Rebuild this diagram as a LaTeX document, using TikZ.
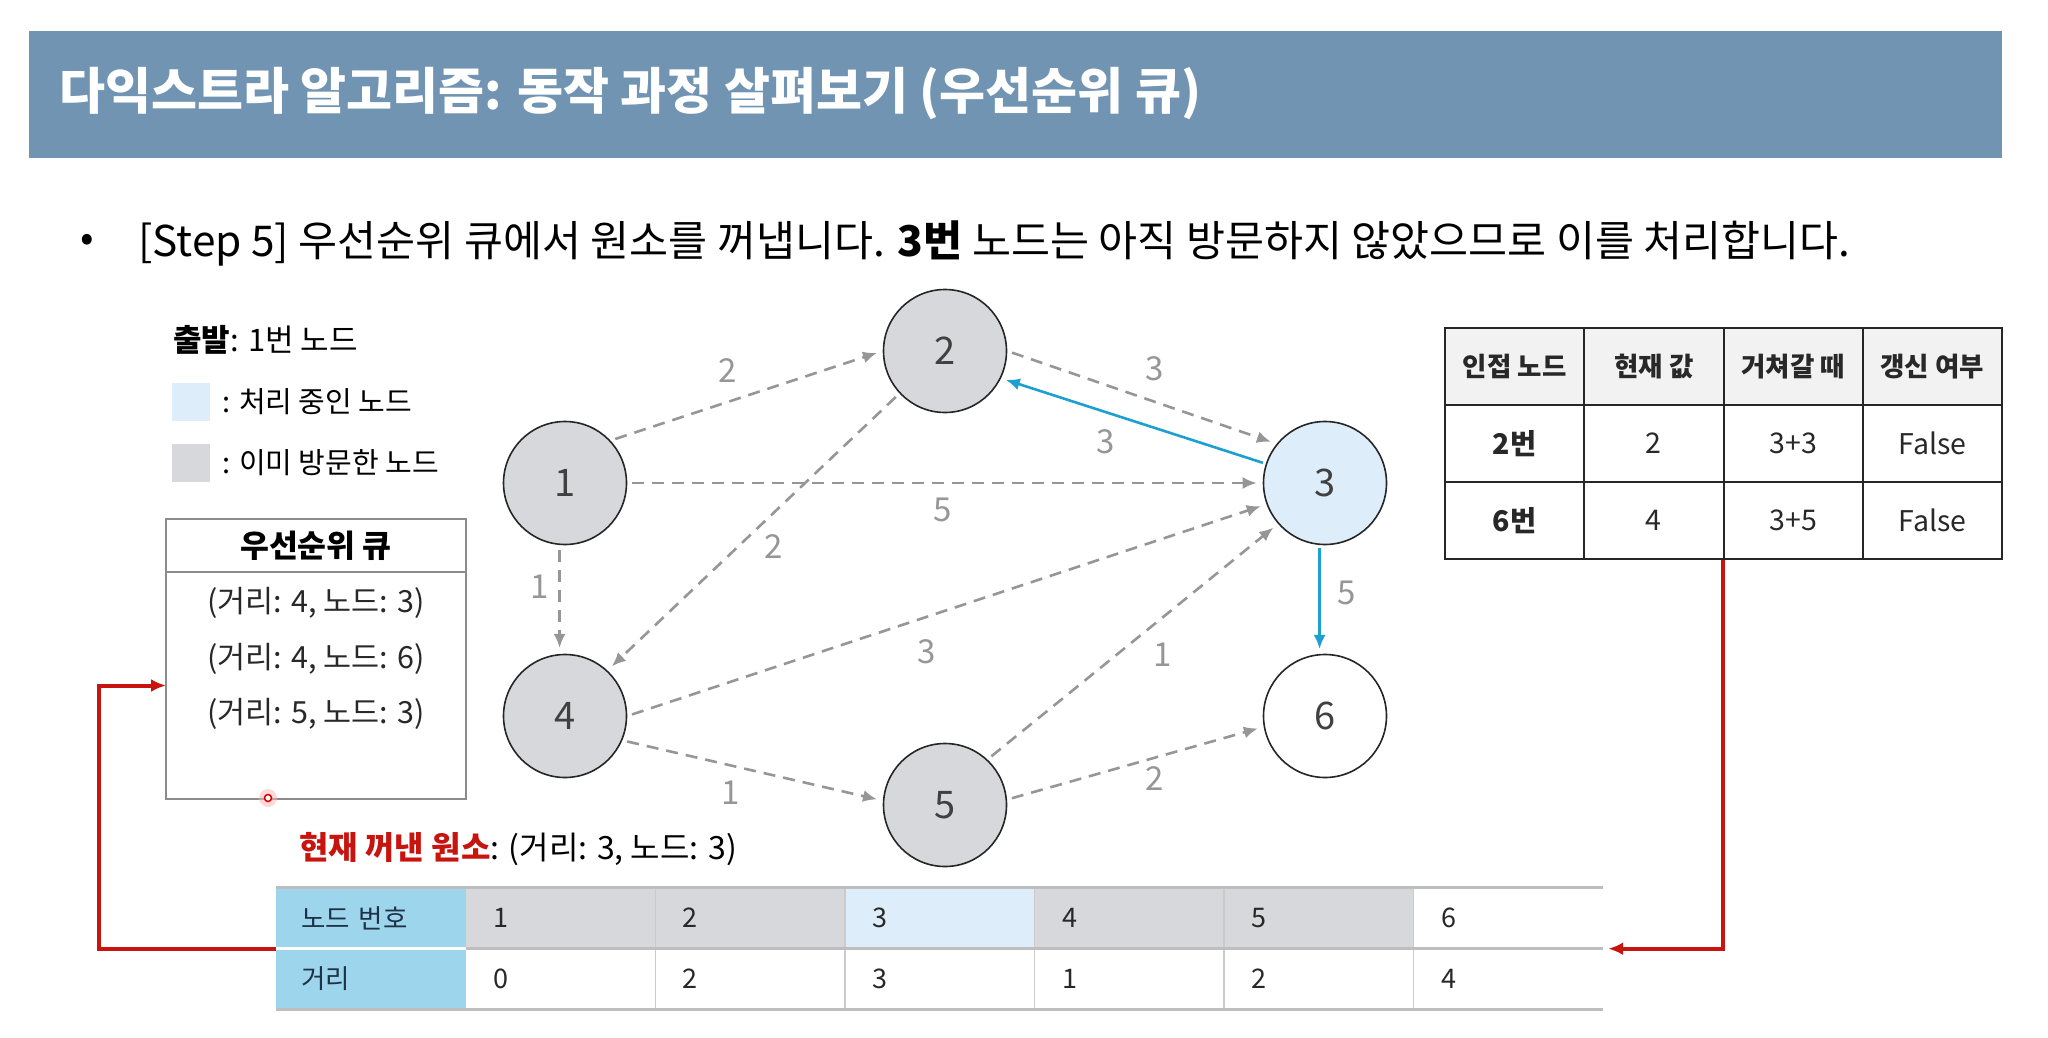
\documentclass[tikz,border=0pt]{standalone}
\usepackage{fontspec}
\setmainfont{Noto Sans CJK KR}
\usetikzlibrary{positioning, arrows.meta}

\definecolor{barblue}{RGB}{112,148,178}
\definecolor{visitgray}{RGB}{215,216,219}
\definecolor{curblue}{RGB}{221,238,250}
\definecolor{edgegray}{RGB}{150,150,150}
\definecolor{pathblue}{RGB}{27,160,208}
\definecolor{pqgray}{RGB}{140,140,140}
\definecolor{hdrblue}{RGB}{157,213,236}
\definecolor{pickred}{RGB}{200,20,15}
\definecolor{thgray}{RGB}{242,242,242}
\definecolor{rulegray}{RGB}{190,190,190}
\definecolor{txtdark}{RGB}{40,40,40}
\definecolor{navytxt}{RGB}{30,50,70}

\newcommand{\fsz}[1]{\fontsize{#1}{#1}\selectfont}

\begin{document}
\begin{tikzpicture}[x=1pt, y=-1pt, >={Latex[length=14pt, width=12pt]},
    vnode/.style={circle, draw=black!85, line width=1.6pt, minimum size=123pt, inner sep=0pt, text=black!75, font=\fsz{38}},
    visited/.style={vnode, fill=visitgray},
    current/.style={vnode, fill=curblue},
    unvisited/.style={vnode, fill=white},
    wedge/.style={edgegray, line width=2.6pt, dash pattern=on 12pt off 8pt, ->, shorten <=5pt, shorten >=6pt},
    bedge/.style={pathblue, line width=2.6pt, ->, shorten <=3pt, shorten >=5pt},
    wlabel/.style={text=edgegray, inner sep=0pt, font=\fsz{33}},
    legtext/.style={anchor=west, inner sep=0pt, font=\fsz{29}},
    legbox/.style={minimum size=38pt, inner sep=0pt},
    pqbox/.style={draw=pqgray, line width=2.5pt, minimum width=300pt, inner sep=0pt, outer sep=0pt},
    pqitem/.style={minimum height=55pt, inner sep=0pt, font=\fsz{30.5}, text=txtdark},
    rcell/.style={draw=black!85, line width=2pt, minimum width=139.25pt, minimum height=77pt, inner sep=0pt, font=\fsz{28.5}, text=txtdark},
    thcell/.style={rcell, fill=thgray, font=\bfseries\fsz{26.5}},
    bcell/.style={minimum width=189.57pt, minimum height=61pt, inner sep=0pt, text width=134pt, align=left, font=\fsz{27}, text=txtdark},
    bhcell/.style={bcell, fill=hdrblue, text=navytxt, text width=139pt, font=\fsz{26.5}},
    hrule/.style={rulegray, line width=3pt},
    vrule/.style={rulegray!80, line width=1.5pt},
    pickline/.style={pickred, line width=4pt, ->, >={Latex[length=15pt, width=13pt]}}
  ]
  \useasboundingbox (0,0) rectangle (2048,1038);

  % Title bar
  \node[fill=barblue, minimum width=1973pt, minimum height=127pt, inner sep=0pt, anchor=north west] (titlebar) at (29,31) {};
  \node[anchor=west, inner sep=0pt, text=white, font=\bfseries\fsz{50}] (title) at (59,94) {다익스트라 알고리즘: 동작 과정 살펴보기 (우선순위 큐)};

  % Step text
  \node[anchor=west, inner sep=0pt, font=\fsz{40}] (bullet) at (80,243) {•};
  \node[anchor=west, inner sep=0pt, font=\fsz{42.4}] (step) at (138,243) {[Step 5] 우선순위 큐에서 원소를 꺼냅니다. \textbf{3번} 노드는 아직 방문하지 않았으므로 이를 처리합니다.};

  % Legend
  \node[legtext, font=\fsz{31}] (start) at (173,340) {\textbf{출발}: 1번 노드};
  \node[legbox, fill=curblue] (lgcur) at (191,402) {};
  \node[legtext, right=12pt of lgcur] {: 처리 중인 노드};
  \node[legbox, fill=visitgray] (lgvis) at (191,463) {};
  \node[legtext, right=12pt of lgvis] {: 이미 방문한 노드};

  % Priority queue
  \node[pqbox, minimum height=53pt, font=\bfseries\fsz{31.4}] (pqhead) at (316,545.5) {우선순위 큐};
  \node[pqbox, minimum height=227pt, below=0pt of pqhead] (pqbody) {};
  \node[pqitem] (pq1) at (316,603) {(거리: 4, 노드: 3)};
  \node[pqitem, below=0pt of pq1] (pq2) {(거리: 4, 노드: 6)};
  \node[pqitem, below=0pt of pq2] (pq3) {(거리: 5, 노드: 3)};
  \fill[red!30, opacity=0.5] (268,798) circle (9pt);
  \draw[red!85!black, line width=1.5pt, fill=white] (268,798) circle (3.5pt);

  % Graph nodes
  \node[visited] (n1) at (565,483) {1};
  \node[visited] (n2) at (945,351) {2};
  \node[current] (n3) at (1325,483) {3};
  \node[visited] (n4) at (565,716) {4};
  \node[visited] (n5) at (945,805) {5};
  \node[unvisited] (n6) at (1325,716) {6};

  % Edges
  \draw[wedge] (n1.43) -- (n2.180);
  \draw[wedge] (n1.0) -- (n3.180);
  \draw[wedge] (n1.265) -- (n4.95);
  \draw[wedge] (n2.223) -- (n4.47);
  \draw[wedge] (n2.0) -- (n3.141);
  \draw[wedge] (n4.0) -- (n3.200);
  \draw[wedge] (n4.-23) -- (n5.176);
  \draw[wedge] (n5.47) -- (n3.221);
  \draw[wedge] (n5.5) -- (n6.190);
  \draw[bedge] (n3.162) -- (n2.-26);
  \draw[bedge] (n3.265) -- (n6.95);

  % Edge weights
  \node[wlabel] at (728,371) {2};
  \node[wlabel] at (943,510) {5};
  \node[wlabel] at (540,587) {1};
  \node[wlabel] at (774,547) {2};
  \node[wlabel] at (1155,369) {3};
  \node[wlabel] at (1106,442) {3};
  \node[wlabel] at (927,652) {3};
  \node[wlabel] at (731,793) {1};
  \node[wlabel] at (1163,655) {1};
  \node[wlabel] at (1155,779) {2};
  \node[wlabel] at (1347,593) {5};

  % Adjacent node table
  \foreach \txt [count=\c] in {인접 노드, 현재 값, 거쳐갈 때, 갱신 여부}
    \node[thcell] (r-1-\c) at ({1445+139.25*(\c-0.5)},366.5) {\txt};
  \foreach \txt [count=\c] in {\textbf{2번}, 2, 3+3, False}
    \node[rcell] (r-2-\c) at ({1445+139.25*(\c-0.5)},443.5) {\txt};
  \foreach \txt [count=\c] in {\textbf{6번}, 4, 3+5, False}
    \node[rcell] (r-3-\c) at ({1445+139.25*(\c-0.5)},520.5) {\txt};

  % Current picked element
  \node[anchor=west, inner sep=0pt, font=\fsz{32}] (pick) at (299,849) {\textcolor{pickred}{\textbf{현재 꺼낸 원소}}: (거리: 3, 노드: 3)};

  % Distance table
  \node[bhcell] (b-1-0) at (370.8,918) {노드 번호};
  \node[bhcell] (b-2-0) at (370.8,979) {거리};
  \foreach \v/\f [count=\c] in {1/visitgray, 2/visitgray, 3/curblue, 4/visitgray, 5/visitgray, 6/white}
    \node[bcell, fill=\f] (b-1-\c) at ({276+189.57*(\c+0.5)},918) {\v};
  \foreach \v [count=\c] in {0, 2, 3, 1, 2, 4}
    \node[bcell] (b-2-\c) at ({276+189.57*(\c+0.5)},979) {\v};
  \foreach \c in {1,...,5}
    \draw[vrule] (b-1-\c.north east) -- (b-2-\c.south east);
  \draw[hrule] (b-1-0.north west) -- (b-1-6.north east);
  \draw[hrule] (b-2-1.north west) -- (b-2-6.north east);
  \draw[white, line width=3pt] (b-2-0.north west) -- (b-2-0.north east);
  \draw[hrule] (b-2-0.south west) -- (b-2-6.south east);

  % Red connectors
  \draw[pickline] (b-1-0.south west) -- ++(-177,0) |- (pqbody.west);
  \draw[pickline] (r-3-3.south west) |- ([xshift=5pt]b-1-6.south east);
\end{tikzpicture}
\end{document}
